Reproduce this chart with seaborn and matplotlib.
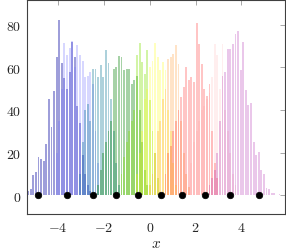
import numpy as np
import pandas as pd
import matplotlib
matplotlib.use('Agg')
import matplotlib.pyplot as plt
import seaborn as sns

# common bin grid (centres)
bin_start = -5.30
bin_width = 0.113
n_bins = 98

# each series: first bin index and bar heights
blue_start = 0
blue = [2, 3, 9.5, 11, 18, 17, 16, 24, 45, 32, 49, 65, 82, 62, 55, 50, 58, 72,
        65, 42, 34, 19, 10, 5, 2]
lavender_start = 11
lavender = [20, 35, 50, 71.5, 66, 69, 72.5, 60, 70.5, 66, 63, 55.5, 56, 58, 52,
            30, 15]
teal_start = 20
teal = [10, 25, 40, 43, 35, 59, 59, 55.5, 61, 55.5, 68, 62, 45, 30, 15, 5]
dgreen_start = 27
dgreen = [5, 12, 20, 25, 30, 35, 59, 60, 65.5, 65, 58.6, 59.4, 59.4, 52.4, 54,
          56, 40, 25, 12, 5]
lgreen_start = 36
lgreen = [10, 18, 25, 30, 35, 40, 66, 71.5, 62.5, 57, 68, 44.6, 30, 20, 8]
yellow_start = 42
yellow = [10, 20, 30, 45, 50, 60, 63, 71.5, 64.8, 58.6, 62.5, 58.6, 40, 30, 15, 5]
orange_start = 47
orange = [5, 10, 20, 30, 35, 45, 50, 64, 64.8, 66.3, 70.7, 61.7, 35, 20, 10, 4]
red_start = 53
red = [10, 20, 23, 30, 35, 40, 46, 50.8, 60, 54, 55.5, 53, 81, 71, 61.7, 50,
       46.5, 52.4, 30, 15, 8]
pink_start = 63
pink = [15, 25, 30, 35, 40, 42, 45, 47.8, 55.5, 71, 65.6, 50, 71, 40, 30, 20,
        10, 5]
mauve_start = 70
mauve = [5, 8, 12, 20, 35, 56, 57.8, 68.7, 68.7, 71, 75.6, 76.9, 58.6, 71.8,
         49.3, 42.3, 43.1, 25.1, 19, 20.3, 12, 10, 3.3, 3, 1, 1, 0, 0.5]

dot_x = [-4.87, -3.6, -2.48, -1.48, -0.52, 0.48, 1.43, 2.43, 3.52, 4.78]
dot_y = [0, 0, 0, 0, 0, 0, 0, 0, 0, 0]

series = [
    (blue_start, blue, '#0000a0', 0.38),
    (lavender_start, lavender, '#7070ff', 0.28),
    (teal_start, teal, '#007090', 0.32),
    (dgreen_start, dgreen, '#008000', 0.35),
    (lgreen_start, lgreen, '#80e000', 0.35),
    (yellow_start, yellow, '#ffff00', 0.25),
    (orange_start, orange, '#ff8000', 0.22),
    (red_start, red, '#ff2020', 0.26),
    (pink_start, pink, '#ff9090', 0.15),
    (mauve_start, mauve, '#a000a0', 0.22),
]

centres = bin_start + bin_width * np.arange(n_bins)
edges = np.append(centres - bin_width / 2, centres[-1] + bin_width / 2).tolist()

plt.rcParams['mathtext.fontset'] = 'cm'
sns.set_style('white')

fig = plt.figure(figsize=(2.86, 2.53), dpi=100)
ax = fig.add_axes([27 / 286, 38 / 253, 258 / 286, 214 / 253])

for start, heights, col, alpha in series:
    df = pd.DataFrame({'x': centres[start:start + len(heights)], 'h': heights})
    sns.histplot(data=df, x='x', weights='h', bins=edges, color=col, alpha=alpha,
                 shrink=0.72, linewidth=0, ax=ax)

sns.scatterplot(x=dot_x, y=dot_y, color='black', s=22, edgecolor='black',
                linewidth=0.5, zorder=5, ax=ax)

ax.set_xlim(-5.35, 5.9)
ax.set_ylim(-8.8, 91.6)
ax.set_xticks([-4, -2, 0, 2, 4])
ax.set_yticks([0, 20, 40, 60, 80])
ax.set_xticklabels(['$%d$' % v for v in [-4, -2, 0, 2, 4]])
ax.set_yticklabels(['$%d$' % v for v in [0, 20, 40, 60, 80]])
ax.tick_params(direction='in', length=3.5, width=0.6, color='0.6',
               top=True, right=True, labelsize=10, pad=4)
for sp in ax.spines.values():
    sp.set_color('0.25')
    sp.set_linewidth(0.8)
ax.set_xlabel('$x$', fontsize=11, labelpad=1)
ax.set_ylabel('')

fig.savefig('out.png', dpi=100)
